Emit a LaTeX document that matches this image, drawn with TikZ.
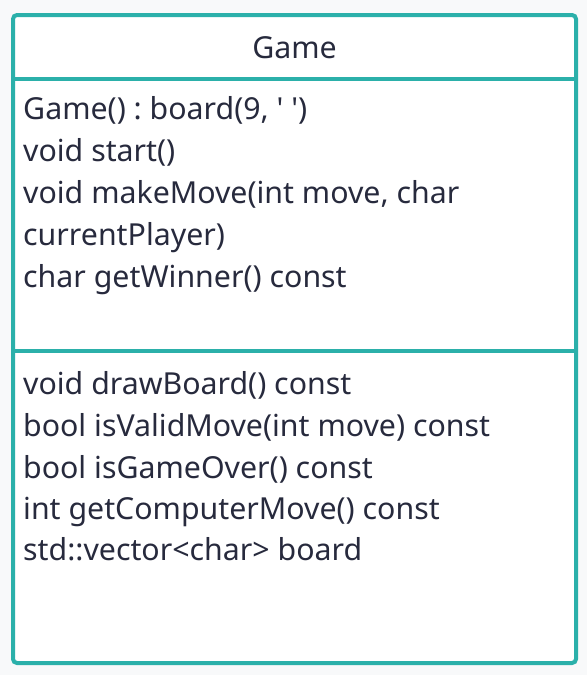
\documentclass[tikz,border=0pt]{standalone}
\usepackage{fontspec}
\setmainfont{Noto Sans}
\frenchspacing
\usetikzlibrary{positioning}
\definecolor{bordercol}{HTML}{2BB0AA}
\definecolor{textcol}{HTML}{272A3D}
\definecolor{bgcol}{HTML}{F8F9FA}
\tikzset{
  member/.style={anchor=base west, inner sep=0pt, text=textcol, font=\fontsize{30.3}{36}\selectfont},
  classname/.style={anchor=base, inner sep=0pt, text=textcol, font=\fontsize{30.3}{36}\selectfont}
}
\begin{document}
\begin{tikzpicture}[x=1pt,y=-1pt]
\fill [bgcol] (0,0) rectangle (587,675);
\useasboundingbox (0,0) rectangle (587,675);
\draw [bordercol, line width=4pt, fill=white, rounded corners=4pt] (13,15) rectangle (576,663);
\draw [bordercol, line width=4pt] (13,79)--(576,79);
\draw [bordercol, line width=4pt] (13,350.5)--(576,350.5);
\node [classname] (title) at (294.5,58) {Game};
% methods
\node [member] (ctor) at (23,119) {Game() : board(9, \textquotesingle\ \textquotesingle)};
\node [member] (start) at (23,161) {void start()};
\node [member] (move) at (23,203) {void makeMove(int move, char};
\node [member] (move2) at (23,245) {currentPlayer)};
\node [member] (winner) at (23,287) {char getWinner() const};
% private part
\node [member] (draw) at (23,394) {void drawBoard() const};
\node [member] (valid) at (23,436) {bool isValidMove(int move) const};
\node [member] (over) at (23,478) {bool isGameOver() const};
\node [member] (cpu) at (23,519) {int getComputerMove() const};
\node [member] (board) at (23,560) {std::vector<char> board};
\end{tikzpicture}
\end{document}
